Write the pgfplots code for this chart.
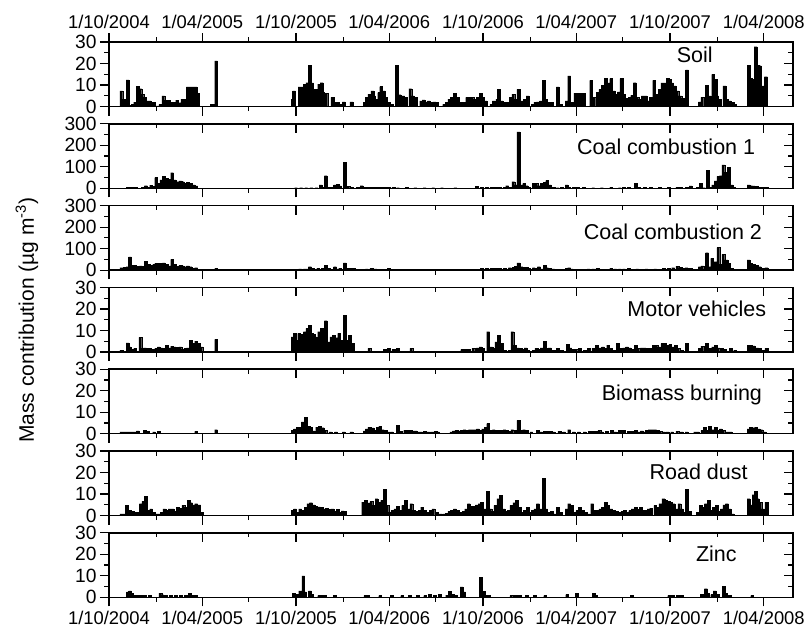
\documentclass[border=0pt]{standalone}
\usepackage{pgfplots}
\pgfplotsset{compat=1.18}
\usepackage{pgfplotstable}
\usepackage{fontspec}
\setmainfont{Liberation Sans}

\pgfplotstableread{
x y
24 7.3
30 3.4
36 12.4
42 0.5
46 1
51 2
56 9.3
61 8.3
65 5.7
70 4.2
75 2.6
79 2.6
83 2
88 2
94 0.3
100 1
106 5
112 3
117 3
122 2
127 2
133 3
138 1.8
143 3.4
148 3.4
154 9.1
159 9.1
164 9.1
169 9.1
174 6.2
200 1
204 1
209 21.2
358 3.4
361 7.3
372 9.1
377 9.1
382 10.4
387 11.1
392 19.2
396 11
399 5
404 8
410 10.4
415 11.1
418 6.5
424 6.2
436 4.2
439 2
446 2
451 1
458 2.2
473 2.2
499 2
503 4.2
508 5.7
514 7.3
517 5
522 3.4
527 6.5
531 9.3
536 7.3
541 4.2
546 2
552 1
562 19.2
567 5.5
574 5
579 4.2
588 8.3
593 5
598 4.2
609 2.6
614 3.1
619 2.2
624 2.6
630 2
635 2.2
640 2
654 1
659 2
664 3.4
669 4.2
675 6.2
680 4.2
685 2
692 2
699 4.2
704 4.2
709 4.2
714 3.4
720 4.2
725 6.2
730 4.2
735 2.6
746 1
751 2.6
758 3.4
761 8
766 2.6
772 2
779 2
784 4.2
789 5.7
794 3.4
799 8
805 2.6
811 3.4
817 5
827 1
832 2
837 2.2
843 2.6
848 12.2
853 3.4
858 2
865 2
876 9.1
881 1
893 2.6
898 14.2
903 2
910 6.2
915 6.2
921 6.2
926 6.2
941 12.2
947 4.2
954 6.5
959 8
964 9.9
969 13
974 11
980 13
985 7.3
990 5.7
995 6.8
1000 13
1005 5.7
1011 3.7
1016 4.2
1021 5.2
1026 11.1
1031 4.2
1037 3.4
1042 5
1047 5
1052 2.6
1057 4.2
1064 12.2
1069 5.7
1075 8
1080 11
1085 11
1090 13
1094 12.7
1099 11
1104 9.6
1109 7.3
1115 5
1120 3.7
1128 17
1153 2.2
1158 4.2
1166 9.9
1172 5
1179 15
1184 12.7
1187 5
1192 3.4
1201 9.6
1206 3.4
1211 2.6
1217 2
1222 1
1248 19.2
1253 13
1258 12.7
1262 27.8
1266 19.2
1270 19
1274 7.3
1278 9.6
1282 13.9
}\soildata

\pgfplotstableread{
x y
37 5
43 5
48 5
53 5
66 4
72 12
77 5
82 15
88 8
92 50
97 23
102 39
107 55
113 47
118 42
123 73
128 39
133 31
139 34
144 31
149 23
154 28
159 23
165 16
170 11
365 3
375 3
385 3
395 3
405 3
413 16
418 6
423 59
429 6
436 6
441 16
446 19
451 11
460 120
467 9
474 5
486 4
493 12
498 6
503 6
510 4
517 5
524 6
531 4
538 6
546 5
555 4
564 3
581 5
598 3
616 3
633 3
650 3
676 3
718 9
728 4
737 4
746 4
754 4
763 4
772 6
777 12
784 6
789 31
794 16
799 262
805 16
810 23
815 12
820 5
829 22
834 23
839 12
844 23
850 27
855 36
860 16
867 5
876 3
884 6
893 16
898 6
907 5
915 4
927 4
945 3
962 3
980 4
997 3
1005 5
1014 6
1028 22
1033 6
1045 5
1057 4
1075 4
1092 4
1109 6
1115 5
1127 5
1135 11
1149 6
1155 22
1161 3
1168 83
1173 6
1179 16
1184 34
1189 55
1194 59
1199 109
1205 75
1210 97
1215 16
1220 5
1248 16
1253 12
1258 11
1265 9
1270 5
1277 5
1283 4
}\coalAdata

\pgfplotstableread{
x y
24 11
30 12
36 16
41 62
46 23
51 23
56 19
62 20
67 19
72 42
77 27
82 23
88 27
92 31
97 31
102 31
107 34
113 28
118 20
123 50
128 28
133 19
139 23
144 20
149 16
154 20
159 16
165 8
170 11
175 5
183 5
209 8
365 5
373 6
382 6
387 6
392 16
397 9
408 8
417 8
423 22
429 8
436 5
441 16
446 6
451 8
460 34
465 8
470 8
477 8
495 5
503 6
512 8
520 6
529 5
538 5
546 8
555 5
581 5
598 5
616 5
633 5
659 5
685 5
702 5
720 5
728 8
737 8
746 8
754 8
763 8
772 8
782 11
789 12
794 19
799 34
805 16
810 12
815 12
820 8
829 11
834 9
839 16
844 6
850 22
855 11
860 8
867 6
893 8
898 11
903 6
910 5
927 5
936 6
945 6
953 8
962 5
980 8
988 6
997 6
1005 6
1014 8
1031 6
1049 6
1066 6
1083 8
1092 9
1101 11
1109 19
1115 12
1120 8
1127 11
1135 8
1153 16
1158 20
1167 81
1172 16
1177 55
1184 39
1189 105
1194 27
1199 73
1205 47
1210 31
1215 8
1220 5
1248 47
1253 31
1258 27
1265 23
1270 16
1277 8
1283 11
}\coalBdata

\pgfplotstableread{
x y
24 0.8
36 4.2
40 2.3
46 1.1
51 1.6
61 6.7
65 1.6
70 1.9
75 1.6
79 1.6
86 1.1
92 1.6
97 2.3
102 1.9
107 1.6
113 3.1
118 1.9
123 2.7
128 2.3
133 2.2
139 2.3
144 1.1
149 1.6
154 1.9
159 5.5
165 3.9
170 5
175 3.9
180 2.3
209 5.8
358 7
363 8.6
368 5.5
371 8.6
377 8.1
382 9.4
387 10.9
392 12.5
396 8.6
399 8.1
403 7
406 6.6
410 9.4
415 10.9
420 7.5
423 14.5
429 4.7
434 7
439 7.8
444 6.6
449 8.6
455 5.5
460 17
465 5.5
470 7.8
475 3.9
508 1.6
538 1.1
546 1.6
555 1.1
564 1.6
590 1.6
689 1.1
695 1.3
702 1.1
711 1.6
720 1.9
725 2.3
730 1.6
740 9.4
746 2.3
751 1.6
756 4.7
761 7.8
766 3.9
772 0.8
782 0.8
787 9.4
792 3.1
798 1.9
803 1.6
808 1.1
813 1.9
818 0.8
829 0.8
834 1.6
839 1.1
844 1.9
850 5
855 1.6
860 1.9
867 0.8
876 1.6
884 0.8
895 3.4
900 1.9
907 1.1
912 1.1
919 1.6
928 0.8
936 1.6
945 1.6
952 3.1
959 1.9
964 2.3
969 1.6
974 3.1
980 1.6
985 0.8
993 3.9
999 1.6
1005 1.9
1011 2.3
1016 1.9
1023 1.1
1028 3.1
1033 1.6
1040 1.9
1045 1.9
1051 1.6
1057 1.6
1063 3.1
1068 3.1
1073 2.3
1080 3.9
1085 3.9
1090 3.1
1095 3.4
1101 2.3
1106 3.1
1111 1.6
1118 0.8
1128 3.9
1153 1.6
1158 2.7
1166 3.9
1172 1.6
1179 2.3
1184 3.1
1189 1.9
1196 1.6
1201 1.1
1213 1.6
1222 0.8
1248 3.1
1253 3.1
1258 2.8
1265 1.9
1270 1.6
1277 0.8
1283 1.6
}\motordata

\pgfplotstableread{
x y
24 0.8
30 0.8
36 0.8
41 0.8
46 0.8
51 0.8
56 1.3
70 1.6
75 1.1
88 0.8
97 1.1
170 1.1
209 1.9
358 1.6
363 2.3
368 3.1
373 3.1
378 5.5
384 7.5
389 3.4
394 3.1
399 1.3
406 3.1
411 3.4
417 2.8
422 1.6
432 0.8
443 0.8
458 0.8
473 0.8
499 1.3
503 2.3
508 3.1
514 2.7
519 1.6
524 3.1
529 3.4
534 1.9
540 1.6
545 0.8
552 0.8
564 3.9
569 1.1
578 1.6
583 1.6
588 1.6
593 1.3
598 1.3
604 0.8
609 0.8
616 1.1
623 0.8
630 0.8
637 1.1
642 0.8
668 0.8
673 1.3
678 1.6
683 1.3
688 1.6
694 1.9
699 1.6
704 1.9
709 1.9
714 1.9
720 2.3
725 1.6
730 2.3
735 3.1
740 4.7
746 1.6
751 1.9
756 1.6
761 1.6
766 1.6
772 1.9
777 1.6
782 1.1
787 1.9
794 1.6
799 6.2
805 1.6
810 1.9
815 1.6
824 0.8
837 1.6
843 0.8
850 1.1
855 1.1
862 1.1
867 0.8
879 1.1
888 0.8
898 1.9
907 0.8
917 0.8
928 0.8
938 1.1
945 1.1
952 1.1
957 1.6
962 0.8
971 1.1
981 1.6
988 0.8
997 1.6
1005 1.6
1014 1.1
1021 1.1
1028 1.6
1035 0.8
1040 1.3
1045 0.8
1050 1.6
1055 1.9
1061 1.9
1066 1.9
1071 1.6
1076 1.1
1083 0.8
1090 0.8
1099 0.8
1109 1.1
1118 0.8
1127 0.8
1144 0.8
1149 0.8
1158 1.6
1163 3.1
1168 1.6
1173 3.4
1179 1.9
1184 3.1
1189 1.6
1194 2.3
1199 1.6
1207 0.8
1213 0.8
1248 2.3
1253 3.1
1258 2.8
1263 3.1
1268 2.3
1273 1.9
1279 0.8
}\biomassdata

\pgfplotstableread{
x y
24 0.8
30 0.8
35 4.7
41 2.3
46 1.9
51 1.6
56 1.6
62 5.5
67 6.6
72 9
77 2.3
82 3.1
88 1.6
93 0.8
98 0.8
103 1.6
108 3.1
113 2.3
118 3.1
124 3.1
129 1.9
134 3.9
139 3.4
145 4.7
150 3.9
155 7
160 6
165 5
170 5.5
176 5
181 1.6
358 2.3
363 3.1
368 1.6
373 3.1
378 2.3
384 3.9
389 5.5
394 6
399 5
404 4.4
410 4
415 3.8
420 3.1
425 3.4
430 2.8
436 3.1
441 1.9
446 2.8
451 1.6
456 2.2
460 1.9
496 6.2
501 7
506 5.9
512 6.6
517 4.7
522 7.8
527 6.2
533 7
538 12.2
543 4.7
548 1.6
553 2.3
559 3.1
564 4.2
569 2.3
574 4.7
579 7
585 3.1
590 5.5
595 2.3
600 1.9
606 2.3
611 3.9
616 2.3
621 1.6
628 2.3
633 3.1
640 1.6
647 0.8
654 0.8
659 1.1
664 1.9
669 2.3
675 3.1
680 2.3
685 1.6
692 1.9
697 3.1
702 5.5
707 4.4
713 4.4
718 5
723 5.5
728 6.2
733 3.1
739 11.2
744 3.1
749 1.9
754 4.7
760 7.8
765 9.4
770 3.1
775 1.9
780 2.3
785 4.7
791 6
796 7
801 3.9
806 1.6
811 2.3
817 3.9
822 1.6
827 2.3
832 3.1
837 5.5
843 3.1
848 17.2
853 3.1
858 1.6
864 1.9
869 0.8
876 3.9
881 1.6
893 3.1
898 5.5
903 4.7
908 1.6
914 2.3
919 3.9
924 2.3
930 1.6
936 0.8
943 5.5
948 2.3
953 2.3
959 3.1
964 3.9
969 6.2
974 4.7
980 3.1
985 2.3
990 1.9
995 1.6
1002 1.9
1007 2.3
1012 1.6
1017 2.3
1022 3.1
1028 3.9
1033 2.8
1038 3.9
1043 2.3
1048 2.3
1053 3.1
1058 3.4
1066 4.7
1071 3.9
1076 5.5
1082 7.8
1087 7
1092 6.6
1097 6.2
1102 5.5
1107 3.1
1113 5.5
1118 3.1
1123 1.6
1128 12.2
1133 1.9
1149 1.6
1155 4.7
1160 3.9
1165 5.5
1170 7
1175 2.3
1180 3.9
1186 4.7
1191 1.9
1196 3.1
1201 5
1206 5.5
1211 3.1
1217 0.8
1248 7.8
1253 5
1258 9.7
1262 11.2
1266 7.8
1271 6.2
1276 3.1
1283 6.2
}\roaddata

\pgfplotstableread{
x y
37 2.5
41 3
45 2
51 1
56 0.8
62 0.8
70 1
80 0.8
100 2
104 1.2
110 0.8
120 0.8
130 0.8
140 1
150 1
158 2
163 1
170 0.8
361 2
367 1.5
373 3
379 10
382 2.5
392 3
396 1.5
410 0.8
416 0.8
421 0.8
441 0.8
500 0.8
505 0.8
529 0.8
552 0.8
572 0.8
587 0.8
603 1
617 0.8
626 1.3
636 0.8
646 1.3
660 1
665 2.8
671 1.3
677 0.8
688 4.9
693 2.5
726 9.2
732 2.8
738 1
742 0.8
785 0.8
794 0.8
802 0.8
815 0.8
831 0.8
851 0.8
894 1.3
913 2
946 2
950 0.8
1020 0.8
1093 0.8
1100 0.8
1110 0.8
1118 0.8
1157 1.3
1165 4
1169 2
1177 1.3
1182 3
1188 1.3
1200 5
1204 2
1212 0.8
1255 0.8
}\zincdata

\newcommand{\tlfont}{\fontsize{9.2}{10}\selectfont}
\newcommand{\ylfont}{\fontsize{9.6}{10}\selectfont}
\pgfplotsset{
  base/.style={
    scale only axis, width=342pt, height=32.25pt,
    anchor=north west,
    xmin=0, xmax=1335, ymin=0,
    major tick length=4.5pt, minor tick length=2.3pt,
    axis line style={line width=0.75pt},
    every tick/.style={black, line width=0.6pt},
    xticklabel style={inner sep=2pt},
    yticklabel style={inner sep=1.5pt},
    /pgf/number format/assume math mode=true,
    yticklabel={\ylfont\pgfmathprintnumber{\tick}},
  },
  xt/.style={
    xtick={0,182,365,547,730,912,1095,1278},
    minor xtick={92,273,457,638,822,1003,1187},
  },
  datelabels/.style={
    xticklabels={{\tlfont 1/10/2004},{\tlfont 1/04/2005},{\tlfont 1/10/2005},{\tlfont 1/04/2006},{\tlfont 1/10/2006},{\tlfont 1/04/2007},{\tlfont 1/10/2007},{\tlfont 1/04/2008}}},
  p30/.style={ymax=30, ytick={0,10,20,30}, minor ytick={5,15,25}},
  p300/.style={ymax=300, ytick={0,100,200,300}, minor ytick={50,150,250}},
  mainax/.style={base, xt, xtick pos=left, ytick pos=left, tick align=outside},
  topax/.style={base, xt, ymax=1, ytick=\empty, xtick pos=right, tick align=inside, xticklabels={}},
  rightax/.style={base, xtick=\empty, ytick pos=right, tick align=inside, yticklabels={}},
  barstyle/.style={ybar, bar width=5.5, fill=black, draw=black, line width=0.1pt},
}
\tikzset{plab/.style={anchor=east, font=\fontsize{10.75}{12}\selectfont}}

% #1 y offset, #2 range style, #3 data, #4 label, #5 label x, #6 label y, #7 extra options of main axis
\newcommand{\panel}[7]{%
  \begin{axis}[mainax, #2, at={(0pt,#1)}, #7]
    \addplot[barstyle] table {#3};
    \node[plab] at (rel axis cs:#5,#6) {#4};
  \end{axis}
  \begin{axis}[rightax, #2, at={(0pt,#1)}]
  \end{axis}
}

\begin{document}
\begin{tikzpicture}

\panel{0pt}{p30}{\soildata}{Soil}{0.893}{0.806}{xticklabels={}}
\begin{axis}[base, xt, ymax=1, ytick=\empty, at={(0pt,0pt)}, xtick pos=right, xticklabel pos=right, tick align=outside, datelabels]
\end{axis}

\panel{-40.9pt}{p300}{\coalAdata}{Coal combustion 1}{0.955}{0.636}{xticklabels={}}
\begin{axis}[topax, at={(0pt,-40.9pt)}]\end{axis}

\panel{-81.8pt}{p300}{\coalBdata}{Coal combustion 2}{0.965}{0.60}{xticklabels={}}
\begin{axis}[topax, at={(0pt,-81.8pt)}]\end{axis}

\panel{-122.7pt}{p30}{\motordata}{Motor vehicles}{0.971}{0.67}{xticklabels={}}
\begin{axis}[topax, at={(0pt,-122.7pt)}]\end{axis}

\panel{-163.6pt}{p30}{\biomassdata}{Biomass burning}{0.965}{0.60}{xticklabels={}}
\begin{axis}[topax, at={(0pt,-163.6pt)}]\end{axis}

\panel{-204.5pt}{p30}{\roaddata}{Road dust}{0.944}{0.67}{xticklabels={}}
\begin{axis}[topax, at={(0pt,-204.5pt)}]\end{axis}

\panel{-245.4pt}{p30}{\zincdata}{Zinc}{0.928}{0.68}{datelabels}
\begin{axis}[topax, at={(0pt,-245.4pt)}]\end{axis}

\node[rotate=90, font=\fontsize{10.5}{12}\selectfont] at (-41pt,-139pt) {Mass contribution (µg m\textsuperscript{-3})};

\pgfresetboundingbox
\useasboundingbox (-54.5pt,21pt) rectangle (347.5pt,-295pt);
\end{tikzpicture}
\end{document}
